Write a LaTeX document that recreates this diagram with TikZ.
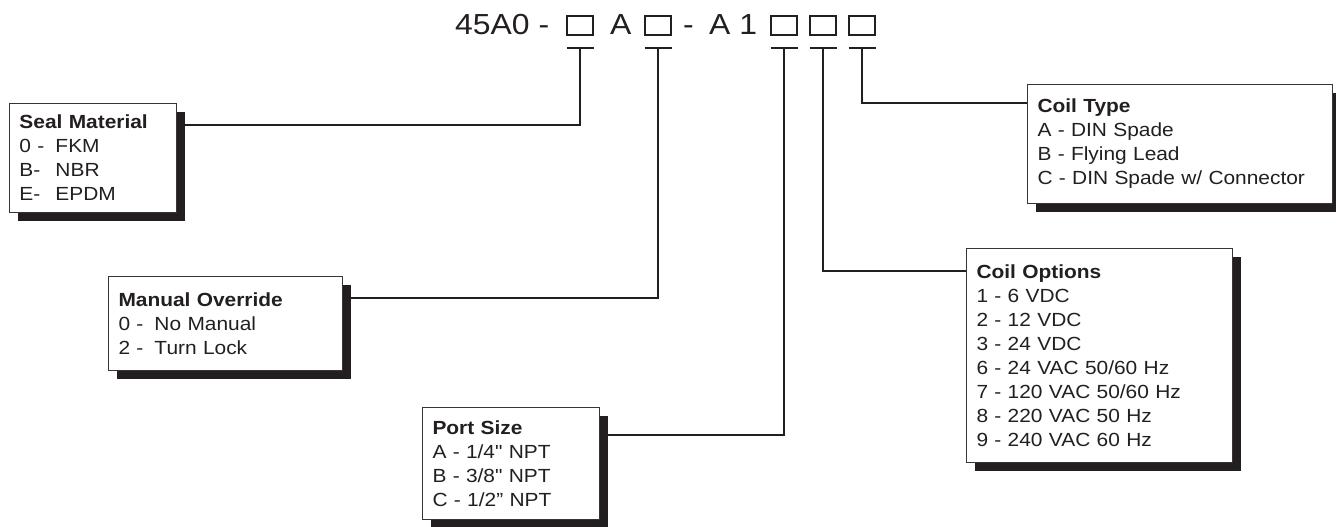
\documentclass[tikz,border=0pt]{standalone}
\usepackage{fontspec}
\setmainfont{Liberation Sans}[FakeStretch=1.1, Ligatures=TeXOff]
\usetikzlibrary{shadows}
\definecolor{ink}{HTML}{231F20}
\newcommand\opt[2]{\makebox[36pt][l]{#1}#2}

\begin{document}
\begin{tikzpicture}[x=1pt, y=-1pt,
  o/.style={draw=ink!90, line width=1pt, fill=white, anchor=north west, align=left,
    inner xsep=10pt, inner ysep=0pt, text=ink, font=\fontsize{19}{24}\selectfont,
    drop shadow={shadow xshift=8pt, shadow yshift=-8pt, fill=ink, opacity=1}},
  sq/.style={draw=ink, line width=2pt, minimum width=26pt, minimum height=19pt, inner sep=0pt},
  ti/.style={anchor=base west, inner sep=0pt, text=ink, font=\fontsize{29}{29}\selectfont},
  l/.style={draw=ink, line width=2pt}]
\useasboundingbox (0,0) rectangle (1336,527);
% part number
\node[ti] (pn) at (455,35) {45A0 -};
\node[sq] (b1) at (580,25.5) {};
\node[ti] (a1) at (610,35) {A};
\node[sq] (b2) at (658,25.5) {};
\node[ti] (d2) at (683,35) {-};
\node[ti] (a2) at (709,35) {A 1};
\node[sq] (b3) at (784,25.5) {};
\node[sq] (b4) at (823,25.5) {};
\node[sq] (b5) at (862,25.5) {};
\coordinate (t1) at ([yshift=-12pt]b1.south); \coordinate (t2) at ([yshift=-12pt]b2.south);
\coordinate (t3) at ([yshift=-12pt]b3.south); \coordinate (t4) at ([yshift=-12pt]b4.south);
\coordinate (t5) at ([yshift=-12pt]b5.south);
\draw[l] ([xshift=-13.5pt]t1) -- ([xshift=13.5pt]t1); \draw[l] ([xshift=-13.5pt]t2) -- ([xshift=13.5pt]t2);
\draw[l] ([xshift=-13.5pt]t3) -- ([xshift=13.5pt]t3); \draw[l] ([xshift=-13.5pt]t4) -- ([xshift=13.5pt]t4);
\draw[l] ([xshift=-13.5pt]t5) -- ([xshift=13.5pt]t5);
% option boxes
\node[o, text width=147pt, minimum width=167pt, minimum height=109pt] (seal) at (9,103)
  {\textbf{Seal Material}\\ \opt{0 -}{FKM}\\ \opt{B-}{NBR}\\ \opt{E-}{EPDM}};
\node[o, text width=214pt, minimum width=234pt, minimum height=94pt] (man) at (108,276)
  {\textbf{Manual Override}\\ \opt{0 -}{No Manual}\\ \opt{2 -}{Turn Lock}};
\node[o, text width=157pt, minimum width=177pt, minimum height=112pt] (port) at (422,407)
  {\textbf{Port Size}\\ A - 1/4" NPT\\ B - 3/8" NPT\\ C - 1/2” NPT};
\node[o, text width=285pt, minimum width=305pt, minimum height=119pt] (ctype) at (1027,84)
  {\textbf{Coil Type}\\ A - DIN Spade\\ B - Flying Lead\\ C - DIN Spade w/ Connector};
\node[o, text width=246pt, minimum width=266pt, minimum height=214pt] (copt) at (966,248)
  {\textbf{Coil Options}\\ 1 - 6 VDC\\ 2 - 12 VDC\\ 3 - 24 VDC\\ 6 - 24 VAC 50/60 Hz\\
   7 - 120 VAC 50/60 Hz\\ 8 - 220 VAC 50 Hz\\ 9 - 240 VAC 60 Hz};
% leaders
\draw[l] (t1) |- ([yshift=-22pt]seal.north east);
\draw[l] (t2) |- ([yshift=-22pt]man.north east);
\draw[l] (t3) |- ([yshift=-28pt]port.north east);
\draw[l] (t4) |- ([yshift=-23pt]copt.north west);
\draw[l] (t5) |- ([yshift=-19pt]ctype.north west);
\end{tikzpicture}
\end{document}
